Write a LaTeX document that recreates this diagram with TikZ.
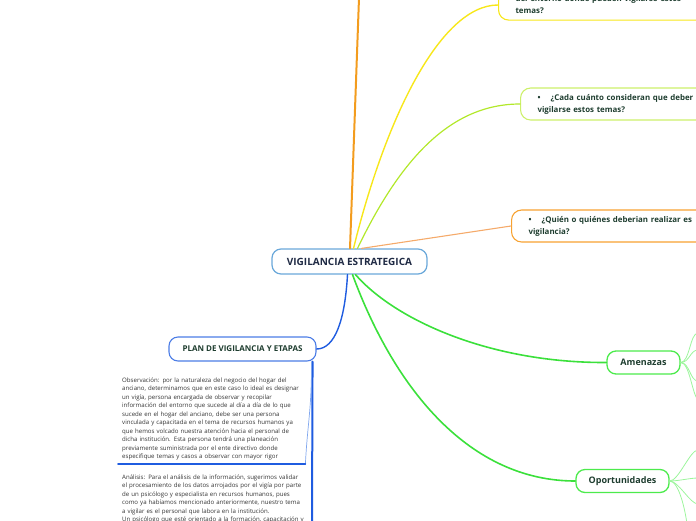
\documentclass[tikz,border=0pt]{standalone}
\usepackage{fontspec}
\setmainfont{Open Sans}
\definecolor{txtc}{HTML}{1E3D2F}
\definecolor{ctxt}{HTML}{1F2A44}
\definecolor{cbord}{HTML}{6AA8DA}
\definecolor{orgline}{HTML}{F39C1E}
\definecolor{yelline}{HTML}{F7E71A}
\definecolor{ygline}{HTML}{B2E82A}
\definecolor{ygbord}{HTML}{CDF06A}
\definecolor{lorline}{HTML}{F5AA6A}
\definecolor{orbord}{HTML}{F7A231}
\definecolor{grline}{HTML}{3BE03B}
\definecolor{grbord}{HTML}{4CEB4C}
\definecolor{lgline}{HTML}{9CF59C}
\definecolor{bline}{HTML}{1F5CE0}
\definecolor{bthin}{HTML}{7FA6EE}
\definecolor{blktxt}{HTML}{333333}
\begin{document}
\begin{tikzpicture}[x=1pt,y=-1pt,
  every node/.style={inner sep=0pt},
  qbox/.style={draw, line width=1.1pt, rounded corners=10pt, align=left, anchor=west,
    inner xsep=17pt, inner ysep=6pt, text width=260pt, text=txtc,
    font=\fontsize{7.9}{12}\selectfont\bfseries},
  mainbox/.style={draw=cbord, line width=1.2pt, rounded corners=9pt, fill=white,
    minimum width=155pt, minimum height=25pt, text=ctxt,
    font=\fontsize{10}{12}\selectfont\bfseries},
  subbox/.style={draw=grbord, line width=1.3pt, rounded corners=9pt, fill=white,
    minimum height=23pt, text=txtc, font=\fontsize{9}{11}\selectfont\bfseries},
  planbox/.style={draw=bline!80, line width=1.1pt, rounded corners=9pt, fill=white,
    minimum width=147pt, minimum height=24pt, text=txtc,
    font=\fontsize{8}{10}\selectfont\bfseries},
  blk/.style={anchor=north west, align=left, text width=179pt, inner xsep=4pt, inner ysep=3.5pt,
    text=blktxt, font=\fontsize{6.1}{8.5}\selectfont},
  conn/.style={line width=#1, line cap=round},
  conn/.default=1.2pt,
]
\useasboundingbox (0,0) rectangle (696,520);
\clip (0,0) rectangle (696,520);

% nodes
\node[mainbox] (c) at (349.5,261.5) {VIGILANCIA ESTRATEGICA};
\node[qbox, draw=yelline] (yel) at (498,5) {del entorno donde pueden vigilarse estos\\temas?};
\node[qbox, draw=ygbord] (cada) at (520,104) {\textbullet\hspace{10pt}¿Cada cuánto consideran que deber\\vigilarse estos temas?};
\node[qbox, draw=orbord] (quien) at (511,226) {\textbullet\hspace{10pt}¿Quién o quiénes deberian realizar es\\vigilancia?};
\node[subbox, minimum width=73pt] (amen) at (643.5,362.5) {Amenazas};
\node[subbox, minimum width=93pt] (oport) at (622.5,481) {Oportunidades};
\node[planbox] (plan) at (242.5,349) {PLAN DE VIGILANCIA Y ETAPAS};

\node[blk] (b1) at (118,374) {Observación: por la naturaleza del negocio del hogar del\\
anciano, determinamos que en este caso lo ideal es designar\\
un vigía, persona encargada de observar y recopilar\\
información del entorno que sucede al día a día de lo que\\
sucede en el hogar del anciano, debe ser una persona\\
vinculada y capacitada en el tema de recursos humanos ya\\
que hemos volcado nuestra atención hacia el personal de\\
dicha institución. Esta persona tendrá una planeación\\
previamente suministrada por el ente directivo donde\\
especifique temas y casos a observar con mayor rigor};
\node[blk, text width=186pt] (b2) at (118,471) {Análisis: Para el análisis de la información, sugerimos validar\\
el procesamiento de los datos arrojados por el vigía por parte\\
de un psicólogo y especialista en recursos humanos, pues\\
como ya habíamos mencionado anteriormente, nuestro tema\\
a vigilar es el personal que labora en la institución.\\
Un psicólogo que esté orientado a la formación, capacitación y};

% free ends
\coordinate (otop) at (359,-2);
\coordinate (pend) at (312,524);
\coordinate (a1) at (698,333);
\coordinate (a2) at (698,350);
\coordinate (a3) at (698,381);
\coordinate (a4) at (698,400);
\coordinate (o1) at (698,450);
\coordinate (o2) at (698,478);
\coordinate (o3) at (698,504);
\coordinate (o4) at (687,524);

% connectors
\draw[conn=2pt, orgline] ([xshift=0.5pt]c.north) -- (otop);
\draw[conn=1.4pt, yelline] ([xshift=4pt]c.north) .. controls (385,120) and (440,5) .. (yel.west);
\draw[conn=1.2pt, ygline] ([xshift=8pt]c.north) .. controls (400,160) and (450,104) .. (cada.west);
\draw[conn=1.1pt, lorline] ([xshift=12pt]c.north) -- (quien.west);
\draw[conn=1.6pt, grline] ([xshift=6pt]c.south) .. controls (395,320) and (490,363) .. (amen.west);
\draw[conn=1.6pt, grline] ([xshift=3pt]c.south) .. controls (395,390) and (470,481) .. (oport.west);
\draw[conn=1.4pt, bline] ([xshift=-2pt]c.south) .. controls (345,320) and (335,349) .. (plan.east);

\draw[conn=0.8pt, lgline] (amen.east) .. controls +(9,0) and +(-8,0) .. (a1);
\draw[conn=0.8pt, lgline] (amen.east) .. controls +(9,0) and +(-8,0) .. (a2);
\draw[conn=0.8pt, lgline] (amen.east) .. controls +(9,0) and +(-8,0) .. (a3);
\draw[conn=0.8pt, lgline] (amen.east) .. controls +(9,0) and +(-6,-6) .. (a4);
\draw[conn=0.8pt, lgline] (oport.east) .. controls +(9,0) and +(-8,0) .. (o1);
\draw[conn=0.8pt, lgline] (oport.east) .. controls +(9,0) and +(-8,0) .. (o2);
\draw[conn=0.8pt, lgline] (oport.east) .. controls +(9,0) and +(-8,0) .. (o3);
\draw[conn=0.8pt, lgline] (oport.east) .. controls +(9,0) and +(-2,-15) .. (o4);

\draw[conn=2pt, bline] ([xshift=-4pt]plan.south east) -- (pend);
\draw[conn=0.7pt, bthin] ([xshift=-5pt]plan.south east) .. controls +(0,50) and +(2,-40) .. (b1.south east);
\draw[conn=1.6pt, bline] (b1.south east) -- (b1.south west);
\end{tikzpicture}
\end{document}
